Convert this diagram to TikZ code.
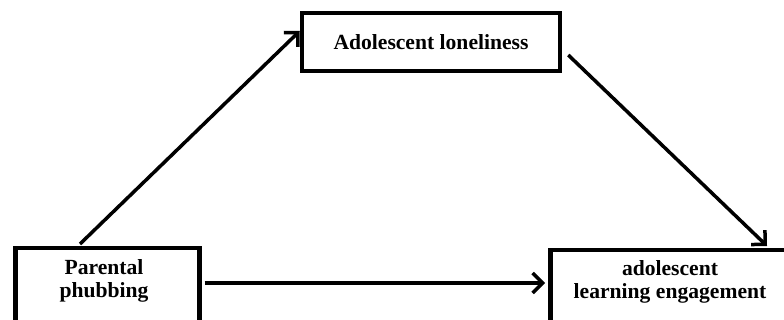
\documentclass[tikz,border=0pt]{standalone}
\usepackage{fontspec}
\setmainfont{Liberation Serif}
\usetikzlibrary{arrows.meta}
\begin{document}
\begin{tikzpicture}[x=1pt,y=-1pt,
  box/.style={draw=black,line width=4.5pt,inner sep=0pt,fill=white},
  lbl/.style={align=center,inner sep=0pt,font=\bfseries\fontsize{21.6}{23}\selectfont},
  conn/.style={draw=black,line width=3.5pt,-{Straight Barb[length=10pt,width=20pt,line width=3.5pt]}}]
\useasboundingbox (0,0) rectangle (784,320);
\clip (0,0) rectangle (784,320);
\fill[white] (0,0) rectangle (784,320);
% boxes
\node[box,lbl,minimum width=258pt,minimum height=58pt] (al) at (431,42) {Adolescent loneliness};
\node[box,minimum width=184pt,minimum height=100pt,anchor=north west] (pp) at (13,246) {};
\node[box,minimum width=244pt,minimum height=100pt,anchor=north west] (le) at (548,248) {};
% labels
\node[lbl] (pptext) at (104,281) {Parental\\phubbing};
\node[lbl] (letext) at (670,282) {adolescent\\learning engagement};
% connectors
\draw[conn] ([xshift=67pt,yshift=2pt]pp.north west) -- ([yshift=11pt]al.west);
\draw[conn] ([xshift=6pt,yshift=-13pt]al.east) -- ([xshift=219pt,yshift=2pt]le.north west);
\draw[conn] ([xshift=3pt,yshift=-37pt]pp.north east) -- ([xshift=-3pt,yshift=-35pt]le.north west);
\end{tikzpicture}
\end{document}
